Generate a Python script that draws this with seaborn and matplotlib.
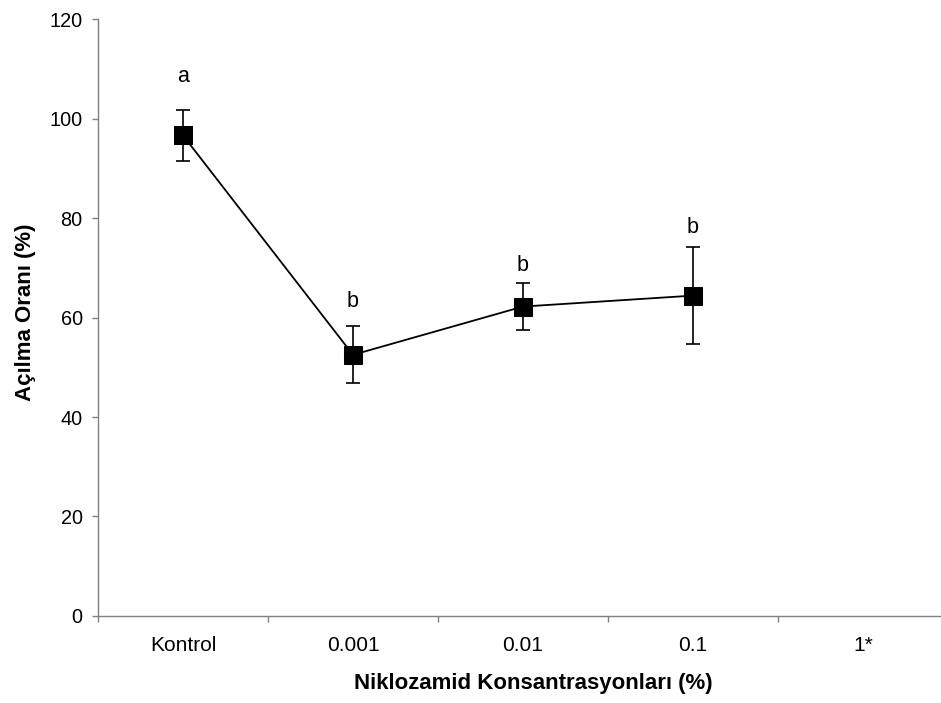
import matplotlib
matplotlib.use("Agg")
import matplotlib.pyplot as plt
import seaborn as sns
import pandas as pd
from matplotlib.ticker import FixedLocator, NullFormatter

# Treatment groups and measured opening rates
categories = ["Kontrol", "0.001", "0.01", "0.1", "1*"]
mean_rate = [96.6, 52.5, 62.2, 64.4]
sd_rate = [5.2, 5.7, 4.7, 9.7]
group_letters = ["a", "b", "b", "b"]
letter_height = [107.4, 62.2, 69.4, 77.0]

sns.set_theme(style="white")
plt.rcParams["font.family"] = ["Liberation Sans", "DejaVu Sans"]
plt.rcParams["text.color"] = "black"
plt.rcParams["axes.labelcolor"] = "black"
plt.rcParams["xtick.color"] = "black"
plt.rcParams["ytick.color"] = "black"

df = pd.DataFrame({
    "pos": range(len(mean_rate)),
    "rate": mean_rate,
    "sd": sd_rate,
})

fig = plt.figure(figsize=(9.41, 7.03), dpi=100)
ax = fig.add_axes([0.10414, 0.12376, 0.9033, 0.8492])

ax.errorbar(df["pos"], df["rate"], yerr=df["sd"], fmt="none",
            ecolor="black", elinewidth=1.2, capsize=5.3, capthick=1.2, zorder=2)
sns.lineplot(data=df, x="pos", y="rate", ax=ax, color="black", linewidth=1.3,
             marker="s", markersize=13, markeredgecolor="black",
             markerfacecolor="black", zorder=3)

for i, (lab, yv) in enumerate(zip(group_letters, letter_height)):
    ax.text(i, yv, lab, ha="center", va="baseline", fontsize=15.5, color="black")

ax.set_xlim(-0.5, len(categories) - 0.5)
ax.set_ylim(0, 120)
ax.set_yticks(range(0, 121, 20))
ax.tick_params(axis="y", labelsize=14.3, length=4.5, width=1, color="#808080",
               labelcolor="black", direction="out", left=True, pad=6.5)

# category labels centred, tick marks between categories
ax.set_xticks(range(len(categories)))
ax.set_xticklabels(categories)
ax.tick_params(axis="x", which="major", length=0, labelsize=15,
               labelcolor="black", pad=14.5)
ax.xaxis.set_minor_locator(FixedLocator([i - 0.5 for i in range(len(categories) + 1)]))
ax.xaxis.set_minor_formatter(NullFormatter())
ax.tick_params(axis="x", which="minor", length=4.5, width=1, color="#808080",
               direction="out", bottom=True)

for side in ["top", "right"]:
    ax.spines[side].set_visible(False)
for side in ["left", "bottom"]:
    ax.spines[side].set_color("#808080")
    ax.spines[side].set_linewidth(1)

ax.set_xlabel("Niklozamid Konsantrasyonları (%)", fontsize=16, fontweight="bold")
ax.set_ylabel("Açılma Oranı (%)", fontsize=16, fontweight="bold")
ax.xaxis.set_label_coords(0.512, -0.0955)
ax.yaxis.set_label_coords(-0.0735, 0.508)
ax.grid(False)

fig.savefig("out.png", dpi=100, facecolor="white")
